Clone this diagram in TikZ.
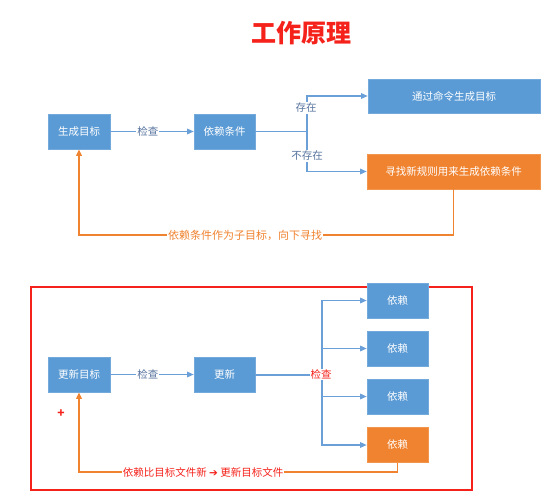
\documentclass[tikz,border=0pt]{standalone}
\usepackage{fontspec}
\setmainfont{Noto Sans CJK SC}
\newfontfamily\symfont{DejaVu Sans}
\usetikzlibrary{arrows.meta}
\definecolor{boxblue}{HTML}{5B9BD5}
\definecolor{lineblue}{HTML}{6A9FD8}
\definecolor{labblue}{HTML}{56739E}
\definecolor{boxorange}{HTML}{F08330}
\definecolor{titlered}{HTML}{F5221B}
\tikzset{
  bluebox/.style={fill=boxblue,draw=boxblue!85!white,line width=0.6pt,text=white,font=\fontsize{10.5}{12}\selectfont,inner sep=0pt},
  orangebox/.style={bluebox,fill=boxorange,draw=boxorange!85!white},
  bline/.style={draw=lineblue,line width=1.3pt},
  barrow/.style={bline,-{Triangle[length=6.5pt,width=5.5pt]}},
  oline/.style={draw=boxorange,line width=1.6pt,-{Triangle[length=6.5pt,width=5.5pt]}},
  arrlab/.style={fill=white,inner sep=1pt,text=labblue,font=\fontsize{10.5}{12}\selectfont},
}
\begin{document}
\begin{tikzpicture}[x=1pt,y=-1pt]
\useasboundingbox (0,0) rectangle (549,503);
% title
\node[text=titlered,font=\fontsize{25}{30}\selectfont\bfseries] (title) at (301,33) {工作原理};

% ---------- top part ----------
\node[bluebox,minimum width=62pt,minimum height=35pt] (gen) at (79,131.5) {生成目标};
\node[bluebox,minimum width=61pt,minimum height=35pt] (dep) at (224.5,131.5) {依赖条件};
\node[bluebox,minimum width=172pt,minimum height=34pt] (cmd) at (454,96) {通过命令生成目标};
\node[orangebox,minimum width=173pt,minimum height=35pt] (find) at (453.5,171.5) {寻找新规则用来生成依赖条件};
\coordinate (j1) at (307,131.5);

\draw[barrow] (gen) -- (dep) node[arrlab,pos=0.45] (chk1) {检查};
\draw[bline] (dep.east) -- (j1);
\draw[barrow] (j1) |- (cmd.west);
\draw[barrow] (j1) |- (find.west);
\node[arrlab] (exist) at (306,108) {存在};
\node[arrlab] (noexist) at (307,156) {不存在};

\coordinate (fb1) at (0,235);
\draw[oline] (find.south) -- (find.south |- fb1) -- (gen.south |- fb1) -- (gen.south);
\node[fill=white,inner sep=1pt,text=boxorange,font=\fontsize{11}{12}\selectfont] (sub) at (245,235) {依赖条件作为子目标，向下寻找};

% ---------- bottom part ----------
\draw[titlered,line width=2pt] (31,287) rectangle (472,490);
\node[bluebox,minimum width=62pt,minimum height=35pt] (updt) at (79,374.5) {更新目标};
\node[bluebox,minimum width=61pt,minimum height=35pt] (upd) at (224.5,374.5) {更新};
\node[bluebox,minimum width=61pt,minimum height=35pt] (d1) at (397.5,300.5) {依赖};
\node[bluebox,minimum width=61pt,minimum height=35pt] (d2) at (397.5,348.5) {依赖};
\node[bluebox,minimum width=61pt,minimum height=35pt] (d3) at (397.5,396.5) {依赖};
\node[orangebox,minimum width=61pt,minimum height=35pt] (d4) at (397.5,445) {依赖};
\coordinate (j2) at (322,374.5);

\draw[barrow] (updt) -- (upd) node[arrlab,pos=0.45] (chk2) {检查};
\draw[bline,line width=2pt] (upd.east) -- (j2);
\draw[barrow] (j2) |- (d1.west);
\draw[barrow] (j2) |- (d2.west);
\draw[barrow] (j2) |- (d3.west);
\draw[barrow] (j2) |- (d4.west);
\node[fill=white,inner sep=0.5pt,text=titlered,font=\fontsize{10.5}{12}\selectfont] (chk3) at (321,374.5) {检查};

\coordinate (fb2) at (0,472);
\draw[oline] (d4.south) -- (d4.south |- fb2) -- (updt.south |- fb2) -- (updt.south);
\node[fill=white,inner sep=1pt,text=titlered,font=\fontsize{10.5}{12}\selectfont] (newer) at (203,472) {依赖比目标文件新 {\symfont ➔} 更新目标文件};
\node[text=titlered,font=\fontsize{12}{14}\selectfont\bfseries] (plus) at (61,414) {+};
\end{tikzpicture}
\end{document}
